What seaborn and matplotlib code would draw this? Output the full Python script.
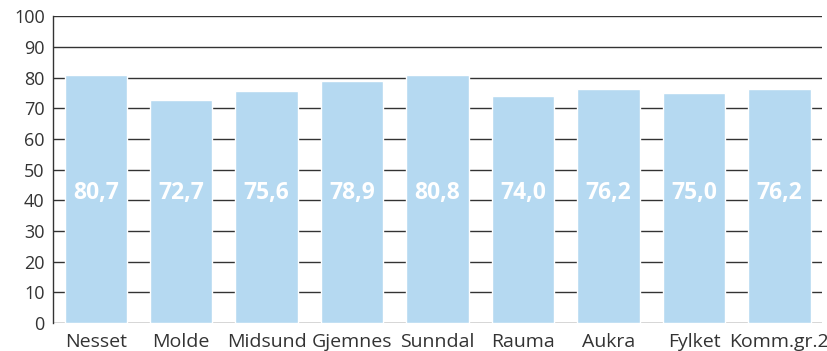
import matplotlib
matplotlib.use("Agg")
import matplotlib.pyplot as plt
import seaborn as sns
import pandas as pd

categories = ["Nesset", "Molde", "Midsund", "Gjemnes", "Sunndal", "Rauma", "Aukra", "Fylket", "Komm.gr.2"]
values = [80.7, 72.7, 75.6, 78.9, 80.8, 74.0, 76.2, 75.0, 76.2]
y_ticks = [0, 10, 20, 30, 40, 50, 60, 70, 80, 90, 100]

df = pd.DataFrame({"kommune": categories, "verdi": values})

sns.set_theme(style="white")
plt.rcParams["font.family"] = ["Open Sans", "DejaVu Sans"]

fig = plt.figure(figsize=(8.28, 3.51), dpi=100)
ax = fig.add_axes([0.064, 0.080, 0.929, 0.874])

# horizontal gridlines sit behind the bars
ax.set_axisbelow(True)
for t in y_ticks:
    ax.axhline(t, color="#333333", linewidth=1.0, zorder=0)

sns.barplot(data=df, x="kommune", y="verdi", color="#b5d9f1", saturation=1,
            width=0.73, ax=ax, zorder=2)

# value labels at a fixed height inside each bar, decimal comma
for i, v in enumerate(values):
    ax.text(i, 42.5, f"{v:.1f}".replace(".", ","), ha="center", va="center",
            color="white", fontsize=16.5, fontweight="bold", zorder=3)

ax.set_ylim(0, 100)
ax.set_xlim(-0.5, len(categories) - 0.5)
ax.set_yticks(y_ticks)
ax.set_xlabel("")
ax.set_ylabel("")
ax.tick_params(axis="y", length=0, labelsize=13, colors="#333333", pad=6)
ax.tick_params(axis="x", length=0, labelsize=14, colors="#333333", pad=7)
for s in ["top", "right", "bottom"]:
    ax.spines[s].set_visible(False)
ax.spines["left"].set_color("#333333")
ax.spines["left"].set_linewidth(1.0)

fig.savefig("out.png", dpi=100)
